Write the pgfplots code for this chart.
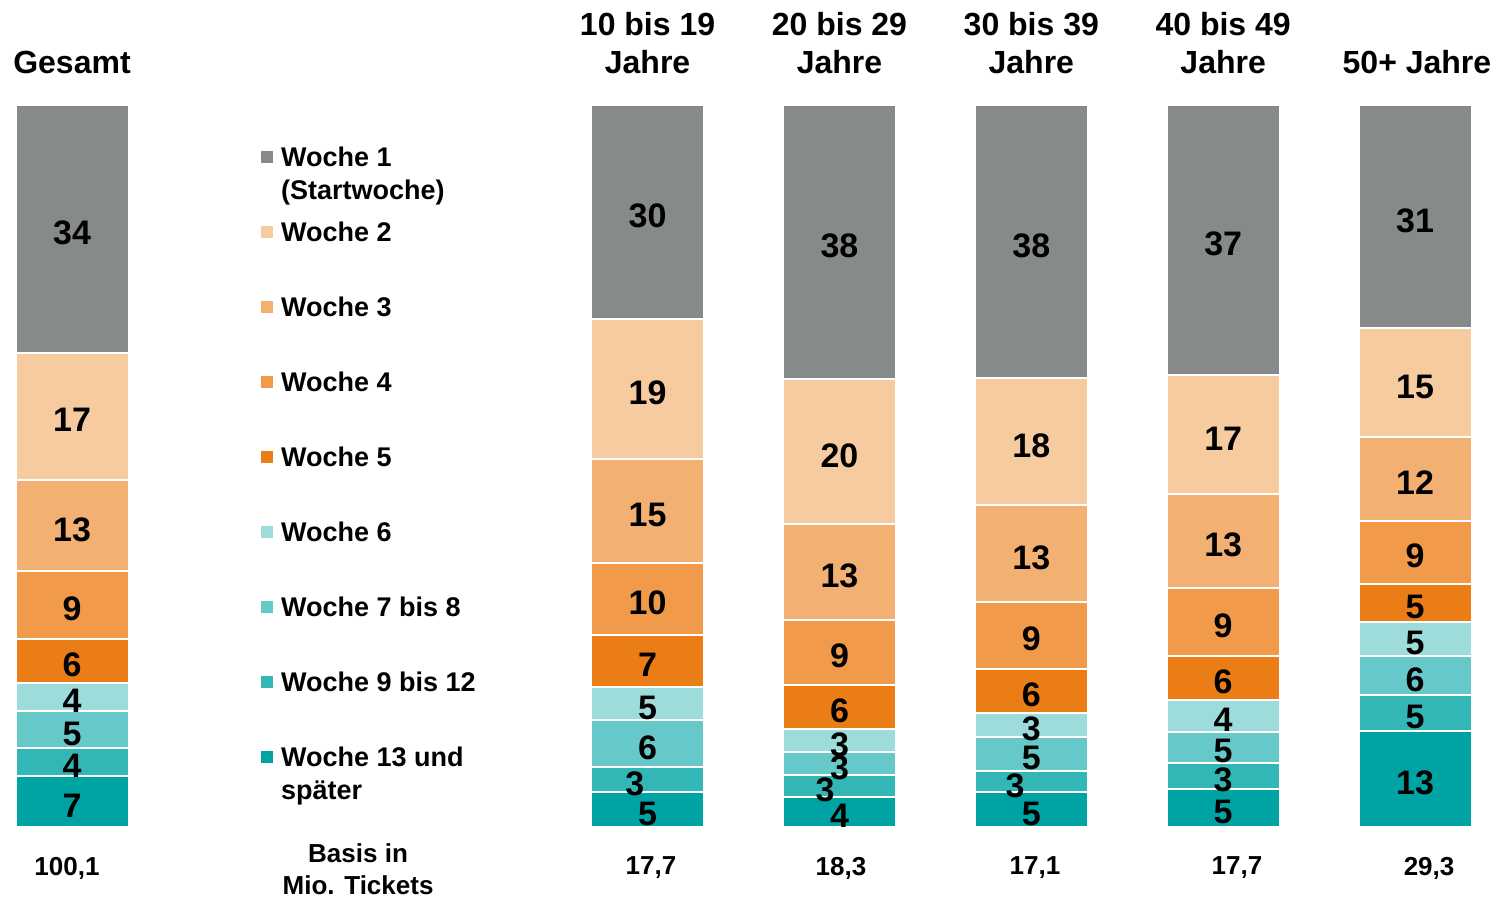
\documentclass[border=0pt]{standalone}
\usepackage{pgfplots}
\pgfplotsset{compat=1.18}
\usepackage{fontspec}
\setmainfont{Liberation Sans}
\definecolor{c1}{RGB}{135,138,138}
\definecolor{c2}{RGB}{246,203,160}
\definecolor{c3}{RGB}{242,177,115}
\definecolor{c4}{RGB}{240,154,74}
\definecolor{c5}{RGB}{235,125,23}
\definecolor{c6}{RGB}{158,219,219}
\definecolor{c7}{RGB}{102,200,200}
\definecolor{c8}{RGB}{51,182,182}
\definecolor{c9}{RGB}{0,163,163}
\newcommand{\legtxt}[1]{\raisebox{0pt}[11.1pt][0pt]{\parbox[t]{5cm}{\raggedright #1}}}
\pgfplotsset{base/.style={at={(0pt,40.5pt)}, anchor=south west,
  scale only axis, width=754.5pt, height=361pt,
  xmin=-0.3753, xmax=7.4898, ymin=0, ymax=100,
  hide axis, clip=false}}
\begin{document}
\begin{tikzpicture}
\path[use as bounding box] (0pt,0pt) rectangle (754.5pt,454pt);
\begin{axis}[
  base,
  ybar stacked, bar width=56.5pt,
  reverse legend,
  legend style={at={(0.173,0.9454)}, anchor=north west, draw=none, fill=none, inner sep=0pt, outer sep=0pt, row sep=24.9pt, column sep=4pt, font=\fontsize{13.5}{16.5}\selectfont\bfseries, cells={anchor=west}, nodes={inner sep=0pt}},
  legend image code/.code={\fill[#1,draw=none] (0pt,-3pt) rectangle (6pt,3pt);},
]
\addplot[fill=c9, draw=white, line width=1pt] coordinates {(0,7.1) (3,4.8) (4,4.2) (5,4.8) (6,5.3) (7,13.3)};
\addlegendentry{\legtxt{Woche 13 und\newline später}}
\addplot[fill=c8, draw=white, line width=1pt] coordinates {(0,3.9) (3,3.5) (4,3.0) (5,2.9) (6,3.6) (7,5.0)};
\addlegendentry{\legtxt{Woche 9 bis 12}}
\addplot[fill=c7, draw=white, line width=1pt] coordinates {(0,5.0) (3,6.5) (4,3.2) (5,4.8) (6,4.3) (7,5.4)};
\addlegendentry{\legtxt{Woche 7 bis 8}}
\addplot[fill=c6, draw=white, line width=1pt] coordinates {(0,4.0) (3,4.6) (4,3.2) (5,3.3) (6,4.4) (7,4.7)};
\addlegendentry{\legtxt{Woche 6}}
\addplot[fill=c5, draw=white, line width=1pt] coordinates {(0,6.1) (3,7.2) (4,6.1) (5,6.1) (6,6.1) (7,5.3)};
\addlegendentry{\legtxt{Woche 5}}
\addplot[fill=c4, draw=white, line width=1pt] coordinates {(0,9.3) (3,10.0) (4,9.0) (5,9.3) (6,9.4) (7,8.7)};
\addlegendentry{\legtxt{Woche 4}}
\addplot[fill=c3, draw=white, line width=1pt] coordinates {(0,12.7) (3,14.4) (4,13.2) (5,13.4) (6,13.0) (7,11.6)};
\addlegendentry{\legtxt{Woche 3}}
\addplot[fill=c2, draw=white, line width=1pt] coordinates {(0,17.6) (3,19.3) (4,20.2) (5,17.6) (6,16.5) (7,15.1)};
\addlegendentry{\legtxt{Woche 2}}
\addplot[fill=c1, draw=white, line width=1pt] coordinates {(0,34.3) (3,29.7) (4,37.9) (5,37.8) (6,37.4) (7,30.9)};
\addlegendentry{\legtxt{Woche 1\newline (Startwoche)}}
\end{axis}
\begin{axis}[base]
\addplot[draw=none, mark=none, nodes near coords, point meta=explicit symbolic,
  every node near coord/.style={anchor=center, inner sep=0pt, font=\fontsize{17}{17}\selectfont\bfseries}]
  table[x=x, y=y, meta=l] {
x y l
0 3.0 7
0 8.5 4
0 12.95 5
0 17.45 4
0 22.5 6
0 30.2 9
0 41.2 13
0 56.35 17
0 82.3 34
3 1.85 5
2.934 6.0 3
3 11.0 6
3 16.55 5
3 22.45 7
3 31.05 10
3 43.25 15
3 60.1 19
3 84.6 30
4 1.55 4
3.925 5.15 3
4 8.25 3
4 11.45 3
4 16.1 6
4 23.65 9
4 34.75 13
4 51.45 20
4 80.5 38
5 1.85 5
4.915 5.7 3
5 9.55 5
5 13.6 3
5 18.3 6
5 26.0 9
5 37.35 13
5 52.85 18
5 80.55 38
6 2.1 5
6 6.55 3
6 10.5 5
6 14.85 4
6 20.1 6
6 27.85 9
6 39.05 13
6 53.8 17
6 80.75 37
7 6.1 13
7 15.25 5
7 20.45 6
7 25.5 5
7 30.5 5
7 37.5 9
7 47.65 12
7 61.0 15
7 84.0 31
};
\begin{scope}[every node/.style={anchor=south, inner sep=0pt, align=center, font=\fontsize{16}{19}\selectfont\bfseries}]
\node at (axis cs:0,104.2) {Gesamt};
\node at (axis cs:3,104.2) {10 bis 19\\Jahre};
\node at (axis cs:4,104.2) {20 bis 29\\Jahre};
\node at (axis cs:5,104.2) {30 bis 39\\Jahre};
\node at (axis cs:6,104.2) {40 bis 49\\Jahre};
\node at (axis cs:7.01,104.2) {50+ Jahre};
\end{scope}
\begin{scope}[every node/.style={anchor=center, inner sep=0pt, align=center, font=\fontsize{13}{16}\selectfont\bfseries}]
\node at (axis cs:-0.026,-5.68) {100,1};
\node at (axis cs:1.491,-5.8) {Basis in\\Mio. Tickets};
\node at (axis cs:3.018,-5.68) {17,7};
\node at (axis cs:4.008,-5.68) {18,3};
\node at (axis cs:5.019,-5.68) {17,1};
\node at (axis cs:6.072,-5.68) {17,7};
\node at (axis cs:7.073,-5.68) {29,3};
\end{scope}
\end{axis}
\end{tikzpicture}
\end{document}
